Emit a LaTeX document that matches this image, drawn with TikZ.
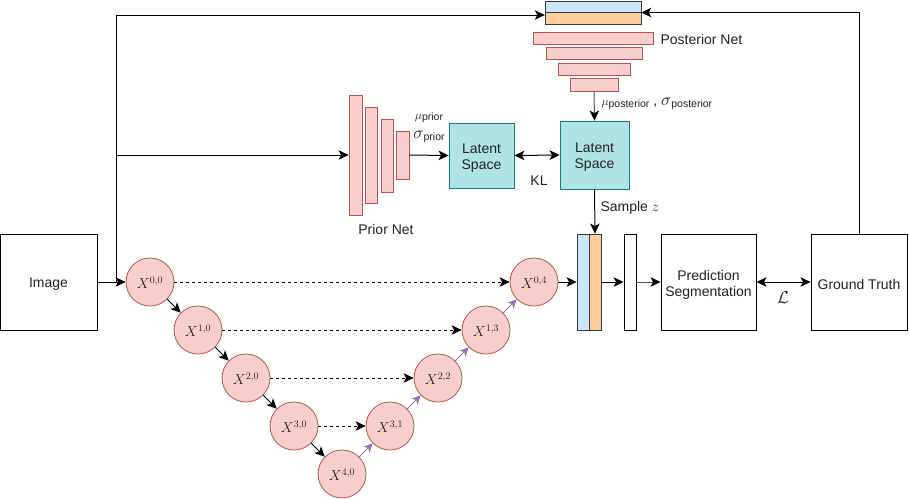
\documentclass[tikz,border=0pt]{standalone}
\usepackage{fontspec}
\setmainfont{Liberation Sans}
\usetikzlibrary{arrows.meta,calc}
\definecolor{pinkF}{HTML}{F8CECC}
\definecolor{pinkS}{HTML}{B85450}
\definecolor{tealF}{HTML}{B0E3E6}
\definecolor{tealS}{HTML}{0E8088}
\definecolor{blueF}{HTML}{CCE5FF}
\definecolor{orangeF}{HTML}{FFCC99}
\definecolor{darkS}{HTML}{36393D}
\definecolor{purpleA}{HTML}{9673A6}
\definecolor{grayA}{HTML}{555555}
\definecolor{txt}{HTML}{222222}
\begin{document}
\begin{tikzpicture}[x=1pt,y=-1pt,
  every node/.style={font=\fontsize{14}{16}\selectfont,text=txt},
  arr/.style={draw=black,line width=1pt,-{Stealth[length=10pt,width=9.5pt,inset=2.5pt]}},
  darr/.style={arr,{Stealth[length=10pt,width=9.5pt,inset=2.5pt]}-{Stealth[length=10pt,width=9.5pt,inset=2.5pt]}},
  dasharr/.style={arr,dash pattern=on 3pt off 3pt},
  purarr/.style={draw=purpleA,line width=1pt,-{Stealth[length=9pt,width=8.5pt,inset=2.5pt]}},
  grayarr/.style={draw=grayA,line width=1pt,-{Stealth[length=10pt,width=9.5pt,inset=2.5pt,color=black]}},
  bar/.style={draw=pinkS,fill=pinkF,line width=0.8pt,inner sep=0pt},
  circ/.style={circle,draw=pinkS,fill=pinkF,line width=0.8pt,minimum size=48pt,inner sep=0pt,font=\fontsize{14}{16}\selectfont},
  box/.style={draw=black,line width=0.9pt,fill=white,inner sep=0pt,align=center},
  latent/.style={draw=tealS,fill=tealF,line width=0.8pt,inner sep=0pt,align=center},
  lbl/.style={yshift=-2.5pt,align=center,inner sep=0pt},
  clbl/.style={yshift=-1pt,inner sep=0pt}]
\useasboundingbox (0,0) rectangle (909,498);

% boxes
\node[box,minimum width=97pt,minimum height=96pt,label={[lbl]center:Image}] (img) at (48.5,282) {};
\node[box,minimum width=95pt,minimum height=96pt,label={[lbl]center:Prediction\\Segmentation}] (pred) at (708.5,282) {};
\node[box,minimum width=96pt,minimum height=96pt,label={[lbl]center:Ground Truth}] (gt) at (859,282) {};
\node[box,minimum width=12pt,minimum height=96pt] (thin) at (630,282) {};
\node[draw=darkS,fill=blueF,line width=0.8pt,inner sep=0pt,minimum width=12pt,minimum height=96pt] (catB) at (583,282) {};
\node[draw=darkS,fill=orangeF,line width=0.8pt,inner sep=0pt,minimum width=12pt,minimum height=96pt] (catO) at (595,282) {};

% posterior concat
\node[draw=darkS,fill=blueF,line width=0.8pt,inner sep=0pt,minimum width=96pt,minimum height=11.5pt] (postB) at (593,6.75) {};
\node[draw=darkS,fill=orangeF,line width=0.8pt,inner sep=0pt,minimum width=96pt,minimum height=11.5pt] (postO) at (593,18.25) {};
\node[inner sep=0pt,minimum width=96pt,minimum height=23pt] (post) at (593,12.5) {};

% posterior net
\node[bar,minimum width=120pt,minimum height=12pt] (pb1) at (593,38) {};
\node[bar,minimum width=96pt,minimum height=12pt] (pb2) at (594,53) {};
\node[bar,minimum width=72pt,minimum height=12pt] (pb3) at (594,69) {};
\node[bar,minimum width=48pt,minimum height=13pt] (pb4) at (594,84.5) {};
\node[anchor=west] (postlbl) at (657,39) {Posterior Net};

% prior net
\node[bar,minimum width=13pt,minimum height=120pt] (qb1) at (355.5,155) {};
\node[bar,minimum width=12pt,minimum height=96pt] (qb2) at (371,155) {};
\node[bar,minimum width=12pt,minimum height=73pt] (qb3) at (387,155.5) {};
\node[bar,minimum width=13pt,minimum height=48pt] (qb4) at (402.5,155) {};
\node (priorlbl) at (386,229) {Prior Net};

% latent spaces
\node[latent,minimum width=65pt,minimum height=65pt,label={[lbl]center:Latent\\Space}] (lat1) at (481.5,155.5) {};
\node[latent,minimum width=69pt,minimum height=68pt,label={[lbl]center:Latent\\Space}] (lat2) at (594.5,155) {};

% labels
\node (muprior) at (429,118) {{\fontsize{13}{14}\selectfont$\mu$}\raisebox{-1pt}{\fontsize{10.5}{12}\selectfont prior}};
\node (sigprior) at (429,137) {{\fontsize{16}{16}\selectfont$\sigma$}\raisebox{-2pt}{\fontsize{10.5}{12}\selectfont prior}};
\node[anchor=west] (mupost) at (598,104) {{\fontsize{13}{14}\selectfont$\mu$}\raisebox{-2pt}{\fontsize{10.5}{12}\selectfont posterior} , {\fontsize{16}{16}\selectfont$\sigma$}\raisebox{-2pt}{\fontsize{10.5}{12}\selectfont posterior}};
\node (kl) at (539,181) {KL};
\node[anchor=west] (samp) at (597,208) {Sample {\fontsize{15}{16}\selectfont$z$}};
\node (loss) at (783,298) {\fontsize{16}{16}\selectfont$\mathcal{L}$};

% U-Net++ nodes
\node[circ,label={[clbl]center:$X^{0,0}$}] (X00) at (150,282) {};
\node[circ,label={[clbl]center:$X^{1,0}$}] (X10) at (198,330) {};
\node[circ,label={[clbl]center:$X^{2,0}$}] (X20) at (246,378) {};
\node[circ,label={[clbl]center:$X^{3,0}$}] (X30) at (294,426) {};
\node[circ,label={[clbl]center:$X^{4,0}$}] (X40) at (342,474) {};
\node[circ,label={[clbl]center:$X^{3,1}$}] (X31) at (390,426) {};
\node[circ,label={[clbl]center:$X^{2,2}$}] (X22) at (438,378) {};
\node[circ,label={[clbl]center:$X^{1,3}$}] (X13) at (486,330) {};
\node[circ,label={[clbl]center:$X^{0,4}$}] (X04) at (534,282) {};

\coordinate (jn) at (116,282);

% connectors
\draw[arr] (img.east) -- (X00.west);
\draw[arr] (img.east) -- (jn) |- ($(post.west)+(0,2.5)$);
\draw[arr] (jn) |- (qb1.west);
\draw[arr] (gt.north) |- (post.east);
\draw[grayarr] (pb4.south) -- (lat2.north);
\draw[arr] (qb4.east) -- (lat1.west);
\draw[darr] (lat1.east) -- (lat2.west);
\draw[arr] (lat2.south) -- (catO.north);
\draw[arr] (X04.east) -- (catB.west);
\draw[arr] (catO.east) -- (thin.west);
\draw[grayarr] (thin.east) -- (pred.west);
\draw[darr] (pred.east) -- (gt.west);

\draw[arr] (X00) -- (X10);
\draw[arr] (X10) -- (X20);
\draw[arr] (X20) -- (X30);
\draw[arr] (X30) -- (X40);
\draw[purarr] (X40) -- (X31);
\draw[purarr] (X31) -- (X22);
\draw[purarr] (X22) -- (X13);
\draw[purarr] (X13) -- (X04);

\draw[dasharr] (X00.east) -- (X04.west);
\draw[dasharr] (X10.east) -- (X13.west);
\draw[dasharr] (X20.east) -- (X22.west);
\draw[dasharr] (X30.east) -- (X31.west);
\end{tikzpicture}
\end{document}
